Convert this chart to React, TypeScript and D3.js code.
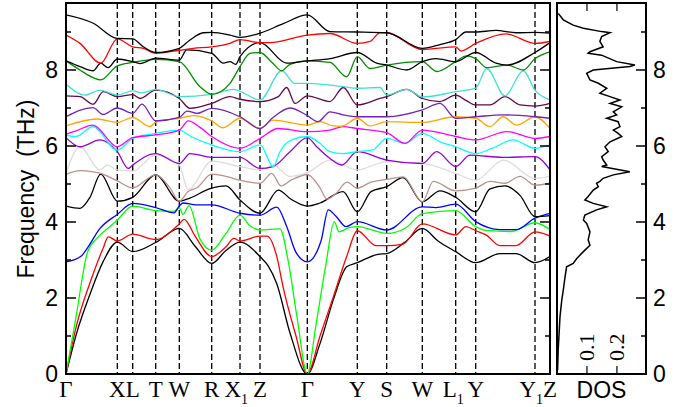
import React from "react";
import * as d3 from "d3";

const kPoints = [0, 51.3, 66.7, 89.7, 113.3, 145.7, 174, 194, 241.3, 291.3, 320.7, 356.3, 389.7, 409.7, 469, 484];
const kLabelBase = ["Γ", "X", "L", "T", "W", "R", "X", "Z", "Γ", "Y", "S", "W", "L", "Y", "Y", "Z"];
const kLabelSub = ["", "", "", "", "", "", "1", "", "", "", "", "", "1", "", "1", ""];
const freqTicks = [0, 2, 4, 6, 8];
const dosTicks = [0.1, 0.2];

const bandColors = [
  "#000000", "#ff0000", "#00ff00", "#0000ff", "#000000", "#bc8f8f",
  "#dcdcdc", "#9400d3", "#00ffff", "#ff00ff", "#ffa500", "#7221bc",
  "#670748", "#40e0d0", "#008b00", "#000000", "#ff0000", "#000000",
];

const band01 = [[0,0],[10.7,1.08],[24,2.1],[37,2.95],[51.3,3.47],[66.7,3.22],[89.7,3.46],[113.3,3.83],[129.5,3.35],[145.7,2.91],[160,3.25],[174,3.47],[194,3.09],[202,2.85],[210.7,2.38],[224,1.08],[241.3,0],[254,0.8],[267.3,1.95],[280.7,2.82],[291.3,2.93],[312,3.15],[320.7,3.17],[338,3.45],[356.3,3.83],[372,3.5],[389.7,3.22],[409.7,2.93],[434,3.17],[450,3.17],[469,2.93],[484,3.09]];
const band02 = [[0,0],[10.7,1.3],[24,2.4],[37,3.3],[42.3,3.61],[51.3,3.5],[66.7,3.68],[89.7,3.54],[113.3,3.95],[118,4.07],[129.5,3.61],[145.7,3.09],[160,3.35],[168,3.57],[174,3.5],[194,3.63],[201,3.63],[210.7,3.1],[217,2.3],[230,1.0],[241.3,0],[254,1.0],[267.3,2.03],[280.7,3.09],[291.3,3.77],[310,3.38],[320.7,3.38],[337,3.42],[356.3,3.95],[389.7,3.66],[400,3.88],[409.7,3.77],[420,3.66],[434,3.38],[450,3.38],[469,3.74],[484,3.63]];
const band03 = [[0,0],[10,1.5],[21.7,3.22],[32,3.6],[44,3.88],[51.3,4.05],[66.7,4.42],[89.7,4.3],[108,4.28],[113.3,4.38],[117,4.2],[123,4.43],[134,3.55],[145.7,3.26],[160,3.7],[174,4.18],[184,3.9],[194,3.79],[214,3.82],[222,3.0],[231,1.5],[241.3,0],[250,1.3],[260,2.9],[268.3,4.01],[273,3.74],[283,3.85],[291.3,3.88],[320.7,3.7],[340,3.85],[356.3,4.22],[389.7,4.3],[409.7,3.88],[420,3.78],[445,3.75],[469,3.98],[484,3.8]];
const band04 = [[0,2.95],[15,3.1],[21,3.3],[34,3.83],[51.3,4.2],[66.7,4.49],[89.7,4.38],[108,4.24],[113.3,4.42],[117,4.5],[130,4.45],[145.7,4.45],[174,4.23],[194,4.18],[210.7,4.39],[220.7,3.88],[230,3.2],[241.3,2.95],[255,3.5],[262.3,4.32],[270,4.15],[280,3.88],[291.3,4.01],[320.7,3.79],[356.3,4.4],[370,4.38],[389.7,4.47],[409.7,4.01],[434,3.8],[450,3.8],[469,4.1],[484,4.23]];
const band05 = [[0,4.42],[14,4.36],[24,4.65],[34.7,5.26],[51.3,4.55],[66.7,4.65],[89.7,5.24],[113.3,4.55],[121,4.6],[145.7,4.89],[160,4.95],[174,4.58],[194,4.23],[212.3,4.84],[225,4.6],[241.3,4.42],[254,4.5],[277,4.8],[291.3,4.27],[305,4.8],[320.7,4.93],[337,5.17],[356.3,4.53],[374,4.82],[389.7,4.65],[409.7,4.27],[424,4.87],[439,4.95],[454,4.7],[469,4.14],[484,4.17]];
const band06 = [[0,5.25],[14,5.35],[27,5.32],[34.7,5.28],[51.3,5.08],[66.7,4.9],[89.7,5.24],[104,4.9],[113.3,4.55],[122,4.8],[131,4.9],[145.7,5.26],[160,5.2],[174,5.1],[194,5.02],[205.7,5.28],[215,4.95],[225,5.1],[241.3,5.25],[254,4.9],[261,4.6],[270,4.75],[281,5.05],[291.3,4.89],[305,5.05],[320.7,5.12],[337.3,5.19],[356.3,4.53],[367.3,5.07],[389.7,4.82],[409.7,4.89],[424,5.07],[439,5.02],[454,5.2],[469,4.97],[484,5.02]];
const band07 = [[0,5.28],[14,5.98],[34,5.37],[41,5.5],[51.3,5.37],[66.7,5.34],[89.7,5.76],[113.3,5.5],[122,4.85],[145.7,5.6],[174,5.46],[194,5.37],[207,5.5],[224,5.2],[241.3,5.3],[264,5.63],[291.3,5.37],[320.7,5.59],[356.3,5.54],[389.7,5.28],[409.7,5.1],[437.3,5.63],[469,5.15],[484,5.2]];
const band08 = [[0,6.22],[14,5.98],[34,6.16],[51.3,5.85],[62.3,5.41],[66.7,5.5],[89.7,5.8],[113.3,5.54],[124,5.8],[145.7,5.7],[174,5.7],[194,5.41],[207,5.46],[224,5.85],[241.3,6.22],[250.7,5.98],[264,5.67],[275.7,5.5],[291.3,5.85],[320.7,5.63],[356.3,5.54],[370.7,5.85],[389.7,5.46],[404,5.76],[437,5.7],[469,5.72],[484,5.37]];
const band09 = [[0,6.29],[10,6.25],[27,6.51],[51.3,5.89],[66.7,6.2],[89.7,6.33],[113.3,6.42],[125,6.25],[145.7,6.03],[174,5.85],[194,6.03],[207.3,5.46],[214,5.85],[225.7,6.16],[241.3,6.25],[254,6.07],[264,5.85],[277,5.8],[291.3,5.85],[307,5.9],[320.7,6.2],[339,6.07],[356.3,6.33],[374,6.11],[389.7,5.98],[409.7,5.8],[427,5.95],[447,6.16],[469,5.94],[484,6.03]];
const band10 = [[0,6.31],[10,6.4],[27,6.55],[51.3,5.98],[66.7,6.22],[89.7,6.29],[113.3,6.42],[122.3,6.66],[134,6.49],[145.7,6.25],[174,5.94],[194,6.2],[212,6.46],[241.3,6.38],[264,6.42],[277,6.51],[291.3,6.46],[320.7,6.35],[339,6.07],[356.3,6.42],[389.7,6.25],[409.7,6.16],[440.7,6.38],[469,6.2],[484,6.25]];
const band11 = [[0,6.53],[31,6.71],[51.3,6.62],[66.7,6.75],[84,6.51],[89.7,6.63],[113.3,6.73],[127,6.8],[145.7,6.66],[157,6.48],[174,6.73],[194,6.46],[207,6.68],[241.3,6.55],[254,6.64],[267,6.53],[275.7,6.52],[291.3,6.73],[304,6.53],[320.7,6.64],[356.3,6.62],[389.7,6.77],[409.7,6.73],[424,6.51],[437,6.77],[450.7,6.55],[469,6.77],[484,6.46]];
const band12 = [[0,6.77],[27,7.01],[37,6.83],[51.3,7.0],[66.7,6.86],[76,7.1],[89.7,6.66],[113.3,6.75],[121,6.92],[131,6.86],[145.7,6.99],[174,6.77],[194,6.46],[207,6.75],[224,7.0],[241.3,6.8],[252,6.64],[264,6.9],[277,6.82],[291.3,6.77],[320.7,6.77],[356.3,6.95],[374,7.12],[389.7,6.73],[409.7,6.77],[437,6.82],[469,6.77],[484,6.73]];
const band13 = [[0,7.32],[14,7.3],[27.3,7.1],[37.3,7.43],[51.3,7.3],[66.7,7.35],[74,7.25],[89.7,7.47],[113.3,7.25],[124,6.99],[145.7,7.12],[164,7.3],[174,7.23],[194,7.17],[212.3,7.3],[220.7,7.54],[229,7.12],[241.3,7.32],[264,7.17],[277.3,7.54],[291.3,7.08],[314,7.25],[320.7,7.3],[340.7,7.49],[356.3,7.25],[374,7.17],[389.7,7.34],[400,7.2],[409.7,7.08],[424,7.08],[439,7.3],[454,7.08],[469,7.05],[484,7.12]];
const band14 = [[0,7.63],[19,7.34],[34,7.47],[51.3,7.34],[66.7,7.45],[76,7.4],[89.7,7.49],[113.3,7.3],[145.7,7.36],[167.3,7.49],[174,7.44],[194,7.21],[215.7,7.98],[229,7.65],[241.3,7.65],[264,7.6],[277.3,7.56],[291.3,7.52],[314,7.54],[320.7,7.34],[340.7,7.49],[356.3,7.29],[389.7,7.43],[409.7,7.52],[420.7,8.04],[439,7.32],[457.3,7.98],[469,7.47],[484,7.21]];
const band15 = [[0,8.24],[14,8.0],[27,7.8],[34.7,7.74],[51.3,8.11],[66.7,8.2],[89.7,8.28],[113.3,8.22],[134,7.56],[145.7,7.36],[164,7.65],[174,8.09],[184,8.44],[194,8.46],[206,8.2],[215.7,7.98],[224,8.15],[241.3,8.24],[264,8.2],[280.7,7.82],[291.3,8.35],[304,8.04],[320.7,8.13],[356.3,8.22],[370.7,7.96],[389.7,8.22],[400.7,8.37],[409.7,8.3],[420.7,8.06],[441,8.13],[457.3,8.0],[469,8.3],[484,8.48]];
const band16 = [[0,8.24],[14,8.09],[27.3,7.98],[34.7,8.18],[42,8.06],[51.3,8.29],[66.7,8.22],[74,8.17],[89.7,8.31],[113.3,8.26],[120.7,8.53],[145.7,8.44],[157.3,8.18],[164,8.22],[169.7,8.15],[174,8.35],[194,8.72],[220.7,8.18],[241.3,8.24],[264,8.3],[291.3,8.46],[310.7,8.18],[320.7,8.13],[340.7,8.0],[356.3,8.22],[370,8.3],[389.7,8.22],[409.7,8.46],[430,8.18],[441,8.13],[469,8.46],[484,8.72]];
const band17 = [[0,8.92],[14,8.7],[34.7,8.18],[51.3,8.82],[66.7,8.61],[77.3,8.57],[89.7,8.44],[113.3,8.52],[127.3,8.57],[145.7,8.61],[164,8.7],[174,8.8],[194,8.72],[204,8.72],[241.3,8.92],[264,8.96],[291.3,8.7],[304,8.75],[314,8.98],[320.7,8.98],[356.3,8.54],[389.7,8.61],[395,8.5],[409.7,8.7],[440,8.95],[469,8.7],[484,8.75]];
const band18 = [[0,9.45],[27.3,9.23],[51.3,8.83],[66.7,8.82],[77.3,8.61],[89.7,8.46],[113.3,8.57],[124,8.79],[137.3,8.98],[145.7,8.99],[164,8.92],[174,8.86],[194,8.97],[217.3,9.22],[241.3,9.45],[264,9.01],[291.3,9.0],[320.7,8.98],[356.3,8.57],[374,8.67],[389.7,8.8],[400,9.0],[409.7,9.0],[430,9.04],[450,8.98],[469,8.99],[484,8.97]];

const bands = [band01, band02, band03, band04, band05, band06, band07, band08, band09, band10, band11, band12, band13, band14, band15, band16, band17, band18];

// DOS: frequency (THz) and density values
const dosFreq = [9.49,9.32,9.18,9.1,9.01,8.98,8.88,8.75,8.61,8.48,8.44,8.39,8.22,8.13,8.09,8.0,7.91,7.74,7.65,7.52,7.39,7.3,7.21,7.12,7.03,6.9,6.82,6.73,6.64,6.51,6.42,6.33,6.25,6.11,5.98,5.85,5.72,5.63,5.5,5.46,5.32,5.24,5.15,5.07,5.02,4.93,4.84,4.67,4.58,4.49,4.4,4.32,4.18,4.05,3.96,3.74,3.53,3.39,3.22,3.04,2.91,2.82,2.56,2.21,1.95,1.51,1.07,0.63,0.1];
const dosValue = [0.004,0.021,0.054,0.088,0.149,0.177,0.149,0.143,0.154,0.11,0.104,0.149,0.199,0.26,0.243,0.121,0.099,0.11,0.138,0.166,0.143,0.177,0.21,0.177,0.216,0.188,0.199,0.166,0.204,0.21,0.188,0.204,0.216,0.177,0.16,0.171,0.149,0.154,0.166,0.149,0.243,0.188,0.154,0.143,0.132,0.138,0.121,0.104,0.093,0.121,0.166,0.132,0.093,0.088,0.099,0.11,0.104,0.11,0.088,0.066,0.054,0.032,0.027,0.021,0.016,0.01,0.007,0.004,0.002];

export default function App() {
  const W = 689, H = 407;
  const left = 66, right = 550, top = 3, bottom = 374;
  const dLeft = 557, dRight = 646;
  const x = d3.scaleLinear().domain([0, 484]).range([left, right]);
  const y = d3.scaleLinear().domain([0, 9.763]).range([bottom, top]);
  const xd = d3.scaleLinear().domain([0, 0.297]).range([dLeft, dRight]);

  const line = d3.line<number[]>().x(d => x(d[0])).y(d => y(d[1])).curve(d3.curveMonotoneX);
  const dosLine = d3.line<number>().x((_, i) => xd(dosValue[i])).y((f) => y(f));

  const minor = d3.range(0, 10);
  const sans = "'Liberation Sans', Arial, Helvetica, sans-serif";
  const serif = "'Liberation Serif', 'Times New Roman', serif";

  return (
    <svg width={W} height={H} style={{ position: "absolute", left: 0, top: 0, background: "#fff" }}>
      <defs>
        <clipPath id="mainClip"><rect x={left} y={top} width={right - left} height={bottom - top} /></clipPath>
      </defs>
      {kPoints.slice(1, -1).map((k, i) => (
        <line key={"v" + i} x1={x(k)} x2={x(k)} y1={top} y2={bottom} stroke="#000" strokeWidth={1.3} strokeDasharray="6,3" />
      ))}
      <g clipPath="url(#mainClip)" fill="none">
        {bands.map((b, i) => (
          <path key={"b" + i} d={line(b) || ""} stroke={bandColors[i]} strokeWidth={1.3} />
        ))}
      </g>
      {minor.map(v => {
        const len = v % 2 === 0 ? 10 : 5;
        return (
          <g key={"t" + v}>
            <line x1={left} x2={left + len} y1={y(v)} y2={y(v)} stroke="#000" strokeWidth={1.5} />
            <line x1={right - len} x2={right} y1={y(v)} y2={y(v)} stroke="#000" strokeWidth={1.5} />
            <line x1={dRight - len} x2={dRight} y1={y(v)} y2={y(v)} stroke="#000" strokeWidth={1.5} />
          </g>
        );
      })}
      {dosTicks.map(t => (
        <g key={"dt" + t}>
          <line x1={xd(t)} x2={xd(t)} y1={top} y2={top + 8} stroke="#000" strokeWidth={1.2} />
          <line x1={xd(t)} x2={xd(t)} y1={bottom - 8} y2={bottom} stroke="#000" strokeWidth={1.2} />
          <text transform={`translate(${xd(t) + 7},${bottom - 13}) rotate(-90)`} fontFamily={serif} fontSize={22} textAnchor="start">{t.toFixed(1)}</text>
        </g>
      ))}
      <rect x={left} y={top} width={right - left} height={bottom - top} fill="none" stroke="#000" strokeWidth={2} />
      <rect x={dLeft} y={top} width={dRight - dLeft} height={bottom - top} fill="none" stroke="#000" strokeWidth={2} />
      <path d={dosLine(dosFreq) || ""} fill="none" stroke="#000" strokeWidth={1.5} />
      {freqTicks.map(v => (
        <g key={"l" + v}>
          <text x={58} y={y(v)} dy="0.36em" textAnchor="end" fontFamily={sans} fontSize={23}>{v}</text>
          <text x={653} y={y(v)} dy="0.36em" textAnchor="start" fontFamily={sans} fontSize={23}>{v}</text>
        </g>
      ))}
      <text transform="translate(34,189) rotate(-90)" textAnchor="middle" fontFamily={sans} fontSize={23} style={{ whiteSpace: "pre" }}>{"Frequency  (THz)"}</text>
      {kPoints.map((k, i) => kLabelSub[i] ? (
        <g key={"k" + i}>
          <text x={x(k) + 1} y={397} textAnchor="end" fontFamily={serif} fontSize={23}>{kLabelBase[i]}</text>
          <text x={x(k) + 1} y={404} textAnchor="start" fontFamily={serif} fontSize={14}>{kLabelSub[i]}</text>
        </g>
      ) : (
        <text key={"k" + i} x={x(k)} y={397} textAnchor="middle" fontFamily={serif} fontSize={23}>{kLabelBase[i]}</text>
      ))}
      <text x={(dLeft + dRight) / 2} y={398} textAnchor="middle" fontFamily={sans} fontSize={23}>DOS</text>
    </svg>
  );
}
